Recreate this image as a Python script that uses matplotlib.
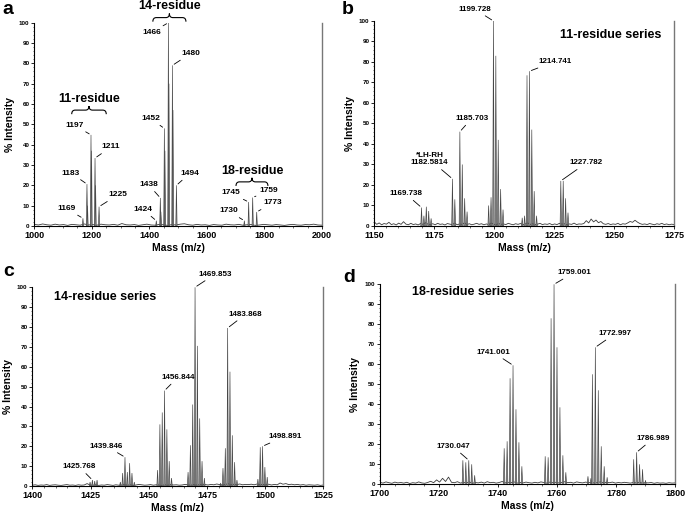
import numpy as np
import matplotlib
matplotlib.use("Agg")
import matplotlib.pyplot as plt
from matplotlib.path import Path
from matplotlib.patches import PathPatch
from matplotlib.ticker import MultipleLocator

plt.rcParams['font.family'] = ['Liberation Sans', 'DejaVu Sans']
plt.rcParams['font.weight'] = 'bold'

# ---- panel a: overview spectrum (nominal masses) ----
a_mz = [1169, 1183, 1185, 1197, 1199, 1211, 1213, 1225,
        1424, 1438, 1440, 1452, 1454, 1466, 1468, 1480, 1482, 1494,
        1730, 1745, 1759, 1773]
a_int = [3.8, 20.6, 10, 44.8, 37, 33.4, 20, 9.5,
         2.6, 13.8, 7, 48, 37, 100, 70, 79, 57, 20,
         2.6, 11.8, 14, 6.9]
a_noise = [0.8, 0.5, 1.0, 0.6, 0.4, 0.9, 0.5, 0.7, 0.3, 0.8, 0.6, 0.4, 1.0, 0.5,
           0.7, 0.4, 0.9, 0.6, 0.5, 0.8, 0.4, 1.2, 0.6, 0.5, 0.7, 0.3, 0.6, 0.9,
           0.5, 0.4, 0.8, 0.6, 0.3, 0.7, 0.5, 0.9, 1.1, 0.6, 0.4, 0.8, 0.5, 0.6,
           0.3, 0.7, 0.5, 0.4, 0.9, 0.6, 0.5, 0.8, 0.4, 0.6, 0.7, 0.3, 0.5, 0.8,
           0.6, 0.4, 0.7, 0.5, 0.3, 0.6, 0.8, 0.5, 0.4, 0.7, 0.6, 0.9, 0.5, 0.4]
a_labels = ["1169", "1183", "1197", "1211", "1225", "1424", "1438", "1452",
            "1466", "1480", "1494", "1730", "1745", "1759", "1773"]
a_label_mz = [1169, 1183, 1197, 1211, 1225, 1424, 1438, 1452,
              1466, 1480, 1494, 1730, 1745, 1759, 1773]
a_label_int = [3.8, 20.6, 44.8, 33.4, 9.5, 2.6, 13.8, 48,
               100, 79, 20, 2.6, 11.8, 14, 6.9]
a_label_off = [(-12, 7), (-11.5, 8), (-12, 7), (11.5, 8), (13.5, 8.5), (-9.5, 8),
               (-8.5, 9.5), (-10, 7), (-12, -7), (13, 8.5), (9.5, 8.5),
               (-11.5, 7), (-13, 6.5), (11.5, 5), (11.5, 6.5)]
a_groups = ["11-residue", "14-residue", "18-residue"]
a_group_span = [(1130, 1250), (1412, 1527), (1701, 1812)]
a_group_y = [57, 102.5, 21.7]

# ---- panel b: 11-residue series ----
b_mz = [1169.7, 1170.7, 1171.7, 1172.7, 1173.7,
        1182.6, 1183.6, 1185.7, 1186.7, 1187.7, 1188.7,
        1197.7, 1198.7, 1199.7, 1200.7, 1201.7, 1202.7, 1203.7,
        1211.7, 1212.7, 1213.7, 1214.7, 1215.7, 1216.7, 1217.7,
        1227.8, 1228.8, 1229.8, 1230.8]
b_int = [9, 5, 9.4, 7.3, 3.7,
         23, 13, 46, 30, 13.5, 7,
         10, 14, 100, 83, 42, 18, 8,
         4, 5, 73.5, 75.5, 47, 17, 5,
         22, 22, 13.5, 6.5]
b_noise = [2.0, 0.8, 1.5, 0.6, 1.2, 0.9, 1.8, 0.7, 1.1, 0.5, 1.4, 0.8, 2.1, 0.9,
           0.6, 1.3, 0.7, 1.0, 0.5, 1.2, 0.8, 1.6, 0.9, 0.7, 1.1, 0.6, 1.3, 0.8,
           1.0, 0.5, 1.2, 0.9, 0.7, 1.4, 0.6, 1.0, 0.8, 1.5, 0.7, 1.1, 0.6, 0.9,
           1.3, 0.8, 1.1, 0.6, 1.0, 0.7, 1.4, 0.9, 0.6, 1.2, 0.8, 1.0, 0.7, 1.3,
           0.9, 0.6, 1.1, 0.8, 1.2, 0.7, 1.0, 1.5, 0.8, 1.1, 0.6, 0.9, 1.3, 0.7,
           1.0, 0.8, 1.2, 0.6, 1.0, 0.7, 1.3, 0.9, 1.1, 0.6, 1.0, 0.8, 1.4, 0.7,
           1.0, 0.9, 1.2, 2.6, 1.5, 3.4, 2.0, 2.9, 1.6, 2.2, 1.1, 0.8, 1.2, 0.7,
           1.0, 0.8, 1.3, 0.6, 1.1, 0.9, 1.5, 2.2, 1.8, 2.8, 1.9, 1.2, 0.8, 1.0,
           0.7, 1.2, 0.9, 0.6, 1.1, 0.8, 1.3, 0.7, 1.0, 0.6, 0.9, 0.7]
b_labels = ["1169.738", "*LH-RH\n1182.5814", "1185.703", "1199.728", "1214.741", "1227.782"]
b_label_mz = [1169.7, 1182.6, 1185.7, 1199.7, 1214.7, 1227.8]
b_label_int = [9, 23, 46, 100, 75.5, 22]
b_label_off = [(-11.5, 10), (-16.5, 14), (8.5, 9.5), (-13.5, 8.5), (18.5, 7), (18.5, 13)]

# ---- panel c: 14-residue series ----
c_mz = [1424.8, 1425.8, 1426.8, 1427.8,
        1437.8, 1438.8, 1439.8, 1440.8, 1441.8, 1442.8, 1443.8,
        1453.8, 1454.8, 1455.8, 1456.8, 1457.8, 1458.8, 1459.8,
        1466.9, 1467.9, 1468.9, 1469.9, 1470.9, 1471.9, 1472.9, 1473.9,
        1480.9, 1481.9, 1482.9, 1483.9, 1484.9, 1485.9, 1486.9, 1487.9,
        1496.9, 1497.9, 1498.9, 1499.9, 1500.9]
c_int = [2, 3, 2.5, 3,
         2, 6.5, 14.5, 7, 11.5, 6.5, 2,
         8, 31, 37, 48, 28.5, 12.5, 4,
         7, 20.5, 41, 100, 70.5, 34, 12.5, 4,
         1.5, 9, 19, 79.5, 57.5, 25.5, 12, 3,
         3.5, 19.5, 20, 9.5, 4.5]
c_noise = [0.4, 0.6, 0.3, 0.5, 0.4, 0.7, 0.3, 0.5, 0.6, 0.4, 0.3, 0.5, 0.7, 0.4,
           0.5, 0.3, 0.6, 0.4, 0.5, 1.2, 0.5, 0.4, 0.6, 0.3, 0.5, 0.4, 0.7, 0.5,
           0.3, 0.6, 0.4, 0.5, 0.7, 0.4, 0.6, 0.3, 0.5, 0.8, 0.6, 0.4, 0.5, 0.7,
           0.4, 0.6, 0.5, 0.3, 0.6, 0.4, 0.7, 0.5, 0.6, 0.4, 0.5, 0.8, 0.6, 0.4,
           0.7, 0.5, 0.6, 0.9, 0.7, 0.5, 0.8, 0.6, 1.0, 0.7, 0.5, 0.8, 1.1, 0.6,
           0.9, 0.7, 1.0, 0.6, 0.8, 0.7, 0.9, 0.6, 1.0, 0.7, 0.8, 0.6, 0.9, 0.5,
           0.8, 0.6, 1.5, 0.9, 1.2, 0.7, 0.9, 0.6, 0.8, 0.5, 0.7, 0.4, 0.6, 0.5,
           0.4, 0.6, 0.3, 0.5]
c_labels = ["1425.768", "1439.846", "1456.844", "1469.853", "1483.868", "1498.891"]
c_label_mz = [1425.8, 1439.8, 1456.8, 1469.9, 1483.9, 1498.9]
c_label_int = [3, 14.5, 48, 100, 79.5, 20]
c_label_off = [(-9.5, 9.5), (-13.5, 8), (9.5, 9.5), (14.5, 9.5), (13, 10), (16, 7)]

# ---- panel d: 18-residue series ----
d_mz = [1728.1, 1729.1, 1730.1, 1731.1, 1732.1,
        1742.1, 1743.1, 1744.1, 1745.1, 1746.1, 1747.1, 1748.1,
        1756.0, 1757.0, 1758.0, 1759.0, 1760.0, 1761.0, 1762.0, 1763.0,
        1770.5, 1771.5, 1772.0, 1773.0, 1774.0, 1775.0, 1776.0, 1777.0,
        1786.0, 1787.0, 1788.0, 1789.0, 1790.0]
d_int = [12, 11, 12, 10, 4.5,
         18, 21.5, 53, 59.5, 37.5, 21, 9,
         14, 13.5, 83, 100, 68.5, 38.5, 14.5, 6,
         4, 3, 55, 68.5, 47, 19, 9, 3.5,
         12.5, 16, 10, 7.5, 2]
d_noise = [1.0, 0.6, 1.2, 0.8, 0.5, 1.1, 0.7, 0.9, 0.6, 1.0, 0.4, 0.8, 0.6, 1.2,
           0.7, 0.5, 0.9, 1.5, 0.8, 2.2, 1.1, 3.0, 1.4, 3.6, 1.0, 0.8, 1.3, 0.6,
           1.0, 0.7, 1.2, 0.5, 0.9, 0.7, 1.1, 0.6, 1.3, 0.8, 1.0, 0.6, 0.9, 1.4,
           0.7, 1.0, 0.8, 1.2, 0.6, 0.9, 0.7, 1.1, 0.8, 0.6, 1.0, 0.7, 1.2, 0.9,
           0.6, 1.1, 0.8, 1.0, 0.7, 0.9, 1.3, 0.8, 1.0, 0.6, 1.2, 0.9, 0.7, 1.1,
           0.8, 1.0, 0.6, 0.9, 1.2, 0.7, 1.0, 0.8, 1.1, 0.6, 0.9, 0.7, 1.0, 0.8,
           0.6, 0.9, 0.7, 1.0, 0.6, 0.8, 0.7, 0.9, 0.5, 0.8, 0.6, 0.7, 0.5, 0.8,
           0.6, 0.7]
d_labels = ["1730.047", "1741.001", "1759.001", "1772.997", "1786.989"]
d_label_mz = [1730.1, 1745.1, 1759.0, 1773.0, 1787.0]
d_label_int = [12, 59.5, 100, 68.5, 16]
d_label_off = [(-11.5, 10), (-14.5, 9.5), (14.5, 8.5), (14.5, 10), (12, 10)]

fig = plt.figure(figsize=(6.85, 5.12), dpi=100)


def draw_spectrum(ax, mz, inten, noise, xlim, hw, major, minor):
    nx = np.linspace(xlim[0], xlim[1], len(noise))
    ax.plot(nx, noise, color='#3a3a3a', lw=0.6, zorder=2)
    for m, h in zip(mz, inten):
        ax.fill([m - hw, m, m + hw], [0, h, 0], facecolor='#9c9c9c',
                edgecolor='#444444', lw=0.45, zorder=3)
    ax.set_xlim(*xlim)
    ax.set_ylim(0, 100)
    ax.spines['top'].set_visible(False)
    ax.spines['right'].set_color('#777777')
    ax.spines['right'].set_linewidth(1.0)
    ax.spines['left'].set_linewidth(0.8)
    ax.spines['bottom'].set_linewidth(0.8)
    ax.xaxis.set_major_locator(MultipleLocator(major))
    ax.xaxis.set_minor_locator(MultipleLocator(minor))
    ax.yaxis.set_major_locator(MultipleLocator(10))
    ax.yaxis.set_minor_locator(MultipleLocator(2))
    ax.tick_params(axis='x', which='major', labelsize=6.5, length=2.5, width=0.6, pad=1)
    ax.tick_params(axis='x', which='minor', length=1.2, width=0.4)
    ax.tick_params(axis='y', which='major', labelsize=4.5, length=2, width=0.6, pad=1.5)
    ax.tick_params(axis='y', which='minor', length=1, width=0.4)
    for lab in ax.get_xticklabels() + ax.get_yticklabels():
        lab.set_fontweight('bold')
    ax.set_xlabel('Mass (m/z)', fontsize=7.5, fontweight='bold', labelpad=2)
    ax.set_ylabel('% Intensity', fontsize=7.5, fontweight='bold', labelpad=3)


def label_peaks(ax, labels, mz, inten, offs, size):
    for t, m, h, o in zip(labels, mz, inten, offs):
        ax.annotate(t, xy=(m, h), xytext=o, textcoords='offset points',
                    ha='center', va='center', fontsize=size, fontweight='bold',
                    linespacing=1.0, annotation_clip=False,
                    arrowprops=dict(arrowstyle='-', lw=0.6, color='black',
                                    shrinkA=0.5, shrinkB=1.5))


def brace(ax, x0, x1, y, h, d):
    xm = (x0 + x1) / 2
    verts = [(x0, y - h), (x0, y), (x0 + d, y), (xm - d, y), (xm, y), (xm, y + h),
             (xm, y), (xm + d, y), (x1 - d, y), (x1, y), (x1, y - h)]
    codes = [Path.MOVETO, Path.CURVE3, Path.CURVE3, Path.LINETO, Path.CURVE3, Path.CURVE3,
             Path.CURVE3, Path.CURVE3, Path.LINETO, Path.CURVE3, Path.CURVE3]
    ax.add_patch(PathPatch(Path(verts, codes), fill=False, lw=0.8,
                           edgecolor='black', clip_on=False))


ax_a = fig.add_axes([0.0501, 0.5586, 0.4200, 0.3971])
draw_spectrum(ax_a, a_mz, a_int, a_noise, (1000, 2000), 2.2, 200, 50)
label_peaks(ax_a, a_labels, a_label_mz, a_label_int, a_label_off, 6)
for name, (x0, x1), yb in zip(a_groups, a_group_span, a_group_y):
    brace(ax_a, x0, x1, yb, 2.0, 12)
    ax_a.text((x0 + x1) / 2, yb + 5.5, name, ha='center', va='center',
              fontsize=9, fontweight='bold', clip_on=False)

ax_b = fig.add_axes([0.5464, 0.5586, 0.4375, 0.4004])
draw_spectrum(ax_b, b_mz, b_int, b_noise, (1150, 1275), 0.3, 25, 5)
label_peaks(ax_b, b_labels, b_label_mz, b_label_int, b_label_off, 5.8)
ax_b.text(0.79, 0.93, '11-residue series', transform=ax_b.transAxes,
          ha='center', va='center', fontsize=9, fontweight='bold')

ax_c = fig.add_axes([0.0472, 0.0508, 0.4248, 0.3881])
draw_spectrum(ax_c, c_mz, c_int, c_noise, (1400, 1525), 0.3, 25, 5)
label_peaks(ax_c, c_labels, c_label_mz, c_label_int, c_label_off, 5.8)
ax_c.text(0.25, 0.95, '14-residue series', transform=ax_c.transAxes,
          ha='center', va='center', fontsize=9, fontweight='bold')

ax_d = fig.add_axes([0.5547, 0.0541, 0.4307, 0.3906])
draw_spectrum(ax_d, d_mz, d_int, d_noise, (1700, 1800), 0.25, 20, 5)
label_peaks(ax_d, d_labels, d_label_mz, d_label_int, d_label_off, 5.8)
ax_d.text(0.28, 0.96, '18-residue series', transform=ax_d.transAxes,
          ha='center', va='center', fontsize=9, fontweight='bold')

for letter, x, y in [('a', 0.012, 0.982), ('b', 0.508, 0.982),
                     ('c', 0.012, 0.47), ('d', 0.51, 0.458)]:
    fig.text(x, y, letter, fontsize=14, fontweight='bold', ha='center', va='center')

fig.savefig('out.png', dpi=100)
